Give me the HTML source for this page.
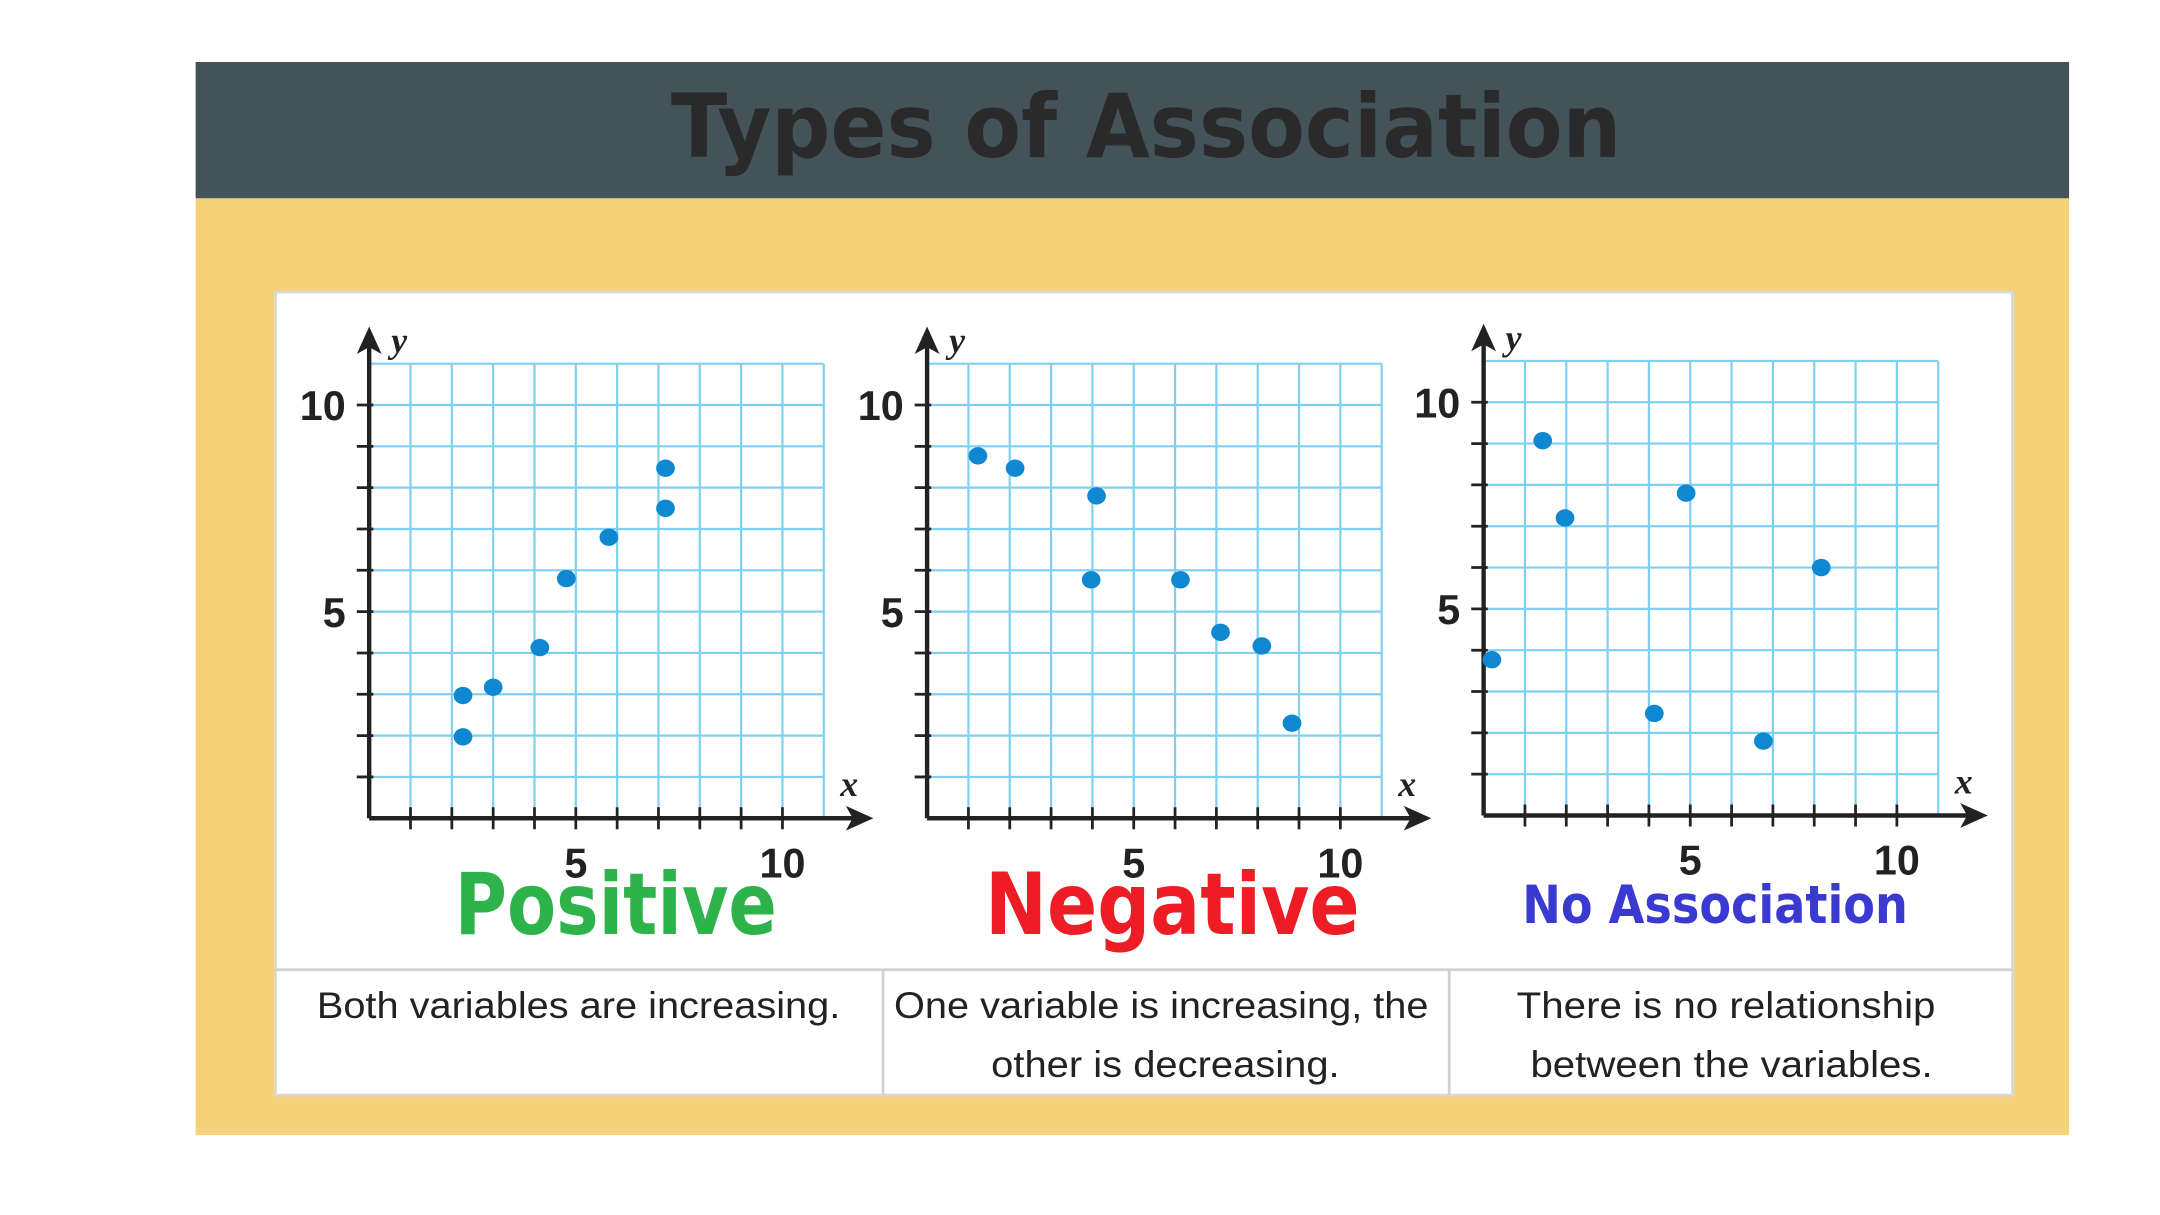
<!DOCTYPE html>
<html><head><meta charset="utf-8"><style>
html,body{margin:0;padding:0;background:#fff;}
svg{display:block;}
</style></head><body>
<svg id="root" width="2160" height="1215" viewBox="0 0 1568 882" xmlns="http://www.w3.org/2000/svg">
<rect x="0" y="0" width="1568" height="882" fill="#ffffff"/>
<rect x="142" y="45" width="1360" height="99" fill="#44525a"/>
<text x="832" y="114" text-anchor="middle" font-family="'DejaVu Sans','Liberation Sans',sans-serif" font-weight="bold" font-size="64" fill="#2a2a2a" textLength="690" lengthAdjust="spacingAndGlyphs">Types of Association</text>
<rect x="142" y="144" width="1360" height="680" fill="#f5d27a"/>
<rect x="200" y="212" width="1261" height="583" fill="#ffffff" stroke="#d8d8d8" stroke-width="2"/>
<line x1="200" y1="704" x2="1461" y2="704" stroke="#d0d0d0" stroke-width="2"/>
<line x1="641" y1="704" x2="641" y2="795" stroke="#d0d0d0" stroke-width="2"/>
<line x1="1052" y1="704" x2="1052" y2="795" stroke="#d0d0d0" stroke-width="2"/>
<g id="charts"></g>
<text x="447" y="678" text-anchor="middle" font-family="'DejaVu Sans',sans-serif" font-weight="bold" font-size="62" fill="#2db34a" textLength="234" lengthAdjust="spacingAndGlyphs">Positive</text>
<text x="851" y="678" text-anchor="middle" font-family="'DejaVu Sans',sans-serif" font-weight="bold" font-size="62" fill="#ee1c25" textLength="272" lengthAdjust="spacingAndGlyphs">Negative</text>
<text x="1245" y="670" text-anchor="middle" font-family="'DejaVu Sans',sans-serif" font-weight="bold" font-size="38" fill="#3a3ad0" textLength="280" lengthAdjust="spacingAndGlyphs">No Association</text>
<g font-family="'Liberation Sans',sans-serif" font-size="27" fill="#222" text-anchor="middle" lengthAdjust="spacingAndGlyphs">
<text x="420" y="739" textLength="380" lengthAdjust="spacingAndGlyphs">Both variables are increasing.</text>
<text x="843" y="739" textLength="388" lengthAdjust="spacingAndGlyphs">One variable is increasing, the</text>
<text x="846" y="782" textLength="253" lengthAdjust="spacingAndGlyphs">other is decreasing.</text>
<text x="1253" y="739" textLength="304" lengthAdjust="spacingAndGlyphs">There is no relationship</text>
<text x="1257" y="782" textLength="292" lengthAdjust="spacingAndGlyphs">between the variables.</text>
</g>
</svg>
<script>
const posX=[2.27,2.27,3,4.13,4.77,5.8,7.17,7.17];
const posY=[2.97,1.97,3.17,4.13,5.8,6.8,8.47,7.5];
const negX=[1.23,2.13,4.1,3.97,6.13,7.1,8.1,8.83];
const negY=[8.77,8.47,7.8,5.77,5.77,4.5,4.17,2.3];
const noneX=[0.2,1.43,1.97,4.13,4.9,6.77,8.17];
const noneY=[3.77,9.07,7.2,2.47,7.8,1.8,6];
const tickLabels=[5,10];
const NS='http://www.w3.org/2000/svg';
const G=document.getElementById('charts');
function mk(tag,attrs,parent){const e=document.createElementNS(NS,tag);for(const k in attrs)e.setAttribute(k,attrs[k]);(parent||G).appendChild(e);return e;}
function chart(name,ox,oy,xs,ys){
  const u=30;
  const sx=v=>ox+v*u, sy=v=>oy-v*u;
  const g=mk('g',{});
  
  
  for(let i=1;i<=11;i++){
    const l=mk('line',{x1:sx(i),y1:sy(0),x2:sx(i),y2:sy(11),stroke:'#7fd0f0','stroke-width':1.6},g);
    
    
    const h=mk('line',{x1:sx(0),y1:sy(i),x2:sx(11),y2:sy(i),stroke:'#7fd0f0','stroke-width':1.6},g);
    
    
  }
  for(let i=1;i<=10;i++){
    const t=mk('line',{x1:sx(0)-9,y1:sy(i),x2:sx(0)+3,y2:sy(i),stroke:'#222','stroke-width':2},g);
    
    
    const t2=mk('line',{x1:sx(i),y1:sy(0)-8,x2:sx(i),y2:sy(0)+8,stroke:'#222','stroke-width':2},g);
    
    
  }
  const xa=mk('line',{x1:sx(0),y1:sy(0),x2:sx(11.7),y2:sy(0),stroke:'#222','stroke-width':3.2},g);
  
  
  const xh=mk('path',{d:`M${sx(12.2)},${sy(0)} l-20,-9 l5,9 l-5,9 z`,fill:'#222'},g);
  
  
  const ya=mk('line',{x1:sx(0),y1:sy(0),x2:sx(0),y2:sy(11.5),stroke:'#222','stroke-width':3.2},g);
  
  
  const yh=mk('path',{d:`M${sx(0)},${sy(11.9)} l-9,20 l9,-5 l9,5 z`,fill:'#222'},g);
  
  
  const xl=mk('text',{x:sx(11.4),y:sy(0)-16,'font-family':"'Liberation Serif',serif",'font-style':'italic','font-weight':'bold','font-size':26,fill:'#222'},g);
  xl.textContent='x';
  
  
  const yl=mk('text',{x:sx(0)+16,y:sy(11.4)+4,'font-family':"'Liberation Serif',serif",'font-style':'italic','font-weight':'bold','font-size':26,fill:'#222'},g);
  yl.textContent='y';
  
  
  tickLabels.forEach(v=>{
    const a=mk('text',{x:sx(0)-17,y:sy(v)+11,'text-anchor':'end','font-family':"'Liberation Sans',sans-serif",'font-weight':'bold','font-size':30,fill:'#222'},g);
    a.textContent=v;
    
    
    const b=mk('text',{x:sx(v),y:sy(0)+43,'text-anchor':'middle','font-family':"'Liberation Sans',sans-serif",'font-weight':'bold','font-size':30,fill:'#222'},g);
    b.textContent=v;
    
    
  });
  xs.forEach((v,i)=>{
    const c=mk('ellipse',{cx:sx(v),cy:sy(ys[i]),rx:6.8,ry:6.3,fill:'#0f88d2'},g);
    
    
  });
}
chart('positive',268,594,posX,posY);
chart('negative',673,594,negX,negY);
chart('no-association',1077,592,noneX,noneY);
</script>
</body></html>
